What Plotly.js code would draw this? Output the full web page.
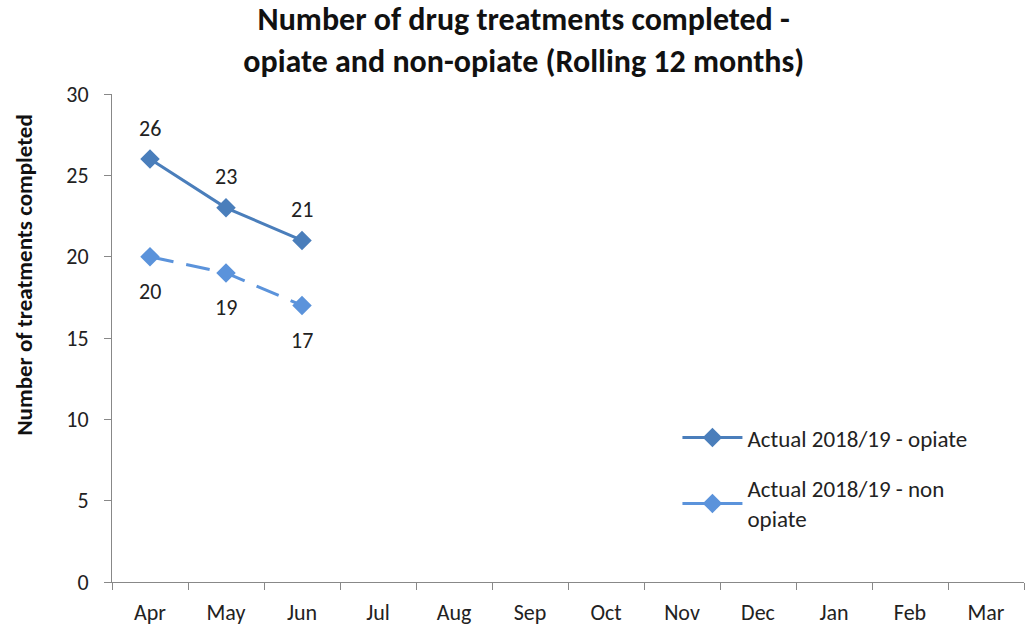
<!DOCTYPE html>
<html>
<head>
<meta charset="utf-8">
<script src="https://cdn.plot.ly/plotly-3.0.1.min.js"></script>
<style>html,body{margin:0;padding:0;background:#fff;}#chart{width:1035px;height:630px;}</style>
</head>
<body>
<div id="chart"></div>
<script>
const months = ['Apr','May','Jun','Jul','Aug','Sep','Oct','Nov','Dec','Jan','Feb','Mar'];
const opiateMonths = ['Apr','May','Jun'];
const opiateValues = [26, 23, 21];
const nonOpiateMonths = ['Apr','May','Jun'];
const nonOpiateValues = [20, 19, 17];
const yTicks = [0, 5, 10, 15, 20, 25, 30];

const font = 'Carlito, Calibri, "Liberation Sans", Arial, sans-serif';
const opiateColor = '#4A7EBB';
const nonOpiateColor = '#5B93DB';

const traces = [
  {
    x: opiateMonths, y: opiateValues, type: 'scatter', mode: 'lines+markers',
    name: 'Actual 2018/19 - opiate', legendgroup: 'a',
    line: {color: opiateColor, width: 3},
    marker: {symbol: 'diamond', size: 15, color: opiateColor}
  },
  {
    x: nonOpiateMonths, y: nonOpiateValues, type: 'scatter', mode: 'lines+markers',
    name: 'Actual 2018/19 - non<br>opiate', legendgroup: 'b',
    line: {color: nonOpiateColor, width: 3, dash: '24px,13px'},
    marker: {symbol: 'diamond', size: 15, color: nonOpiateColor}
  }
];

const labelFont = {family: font, size: 22, color: '#222'};
const annotations = [];
opiateMonths.forEach((m, i) => annotations.push({
  x: m, y: opiateValues[i], text: String(opiateValues[i]), showarrow: false,
  yshift: 31, font: labelFont
}));
nonOpiateMonths.forEach((m, i) => annotations.push({
  x: m, y: nonOpiateValues[i], text: String(nonOpiateValues[i]), showarrow: false,
  yshift: -35, font: labelFont
}));
annotations.push({
  text: '<b>Number of treatments completed</b>', showarrow: false, textangle: -90,
  xref: 'paper', yref: 'paper', x: -0.0965, y: 0.63, xanchor: 'center', yanchor: 'middle',
  font: {family: font, size: 23, color: '#111'}
});

const layout = {
  width: 1035, height: 630,
  margin: {l: 112, r: 11, t: 94, b: 48},
  paper_bgcolor: '#fff', plot_bgcolor: '#fff',
  font: {family: font, size: 21, color: '#222'},
  title: {
    text: '<b>Number of drug treatments completed -<br>opiate and non-opiate (Rolling 12 months)</b>',
    x: 0.506, xanchor: 'center', xref: 'container', y: 0.952, yanchor: 'middle',
    font: {family: font, size: 32, color: '#111'}
  },
  annotations: annotations,
  xaxis: {
    type: 'category', categoryorder: 'array', categoryarray: months,
    tickvals: months, range: [-0.5, 11.5],
    tickson: 'boundaries', ticks: 'outside', ticklen: 7, tickcolor: '#888',
    showline: true, linecolor: '#888', linewidth: 1,
    showgrid: false, zeroline: false, ticklabelstandoff: 11,
    tickfont: {family: font, size: 22, color: '#222'}
  },
  yaxis: {
    range: [0, 30], tickvals: yTicks,
    ticks: 'outside', ticklen: 7, tickcolor: '#888',
    showline: true, linecolor: '#888', linewidth: 1,
    showgrid: false, zeroline: false, ticklabelstandoff: 11,
    tickfont: {family: font, size: 22, color: '#222'}
  },
  legend: {
    x: 0.62, y: 0.34, xanchor: 'left', yanchor: 'top',
    bgcolor: 'rgba(0,0,0,0)', font: {family: font, size: 23, color: '#222'},
    tracegroupgap: 18, itemwidth: 60
  },
  showlegend: true
};

Plotly.newPlot('chart', traces, layout, {displayModeBar: false, staticPlot: true});
</script>
</body>
</html>
